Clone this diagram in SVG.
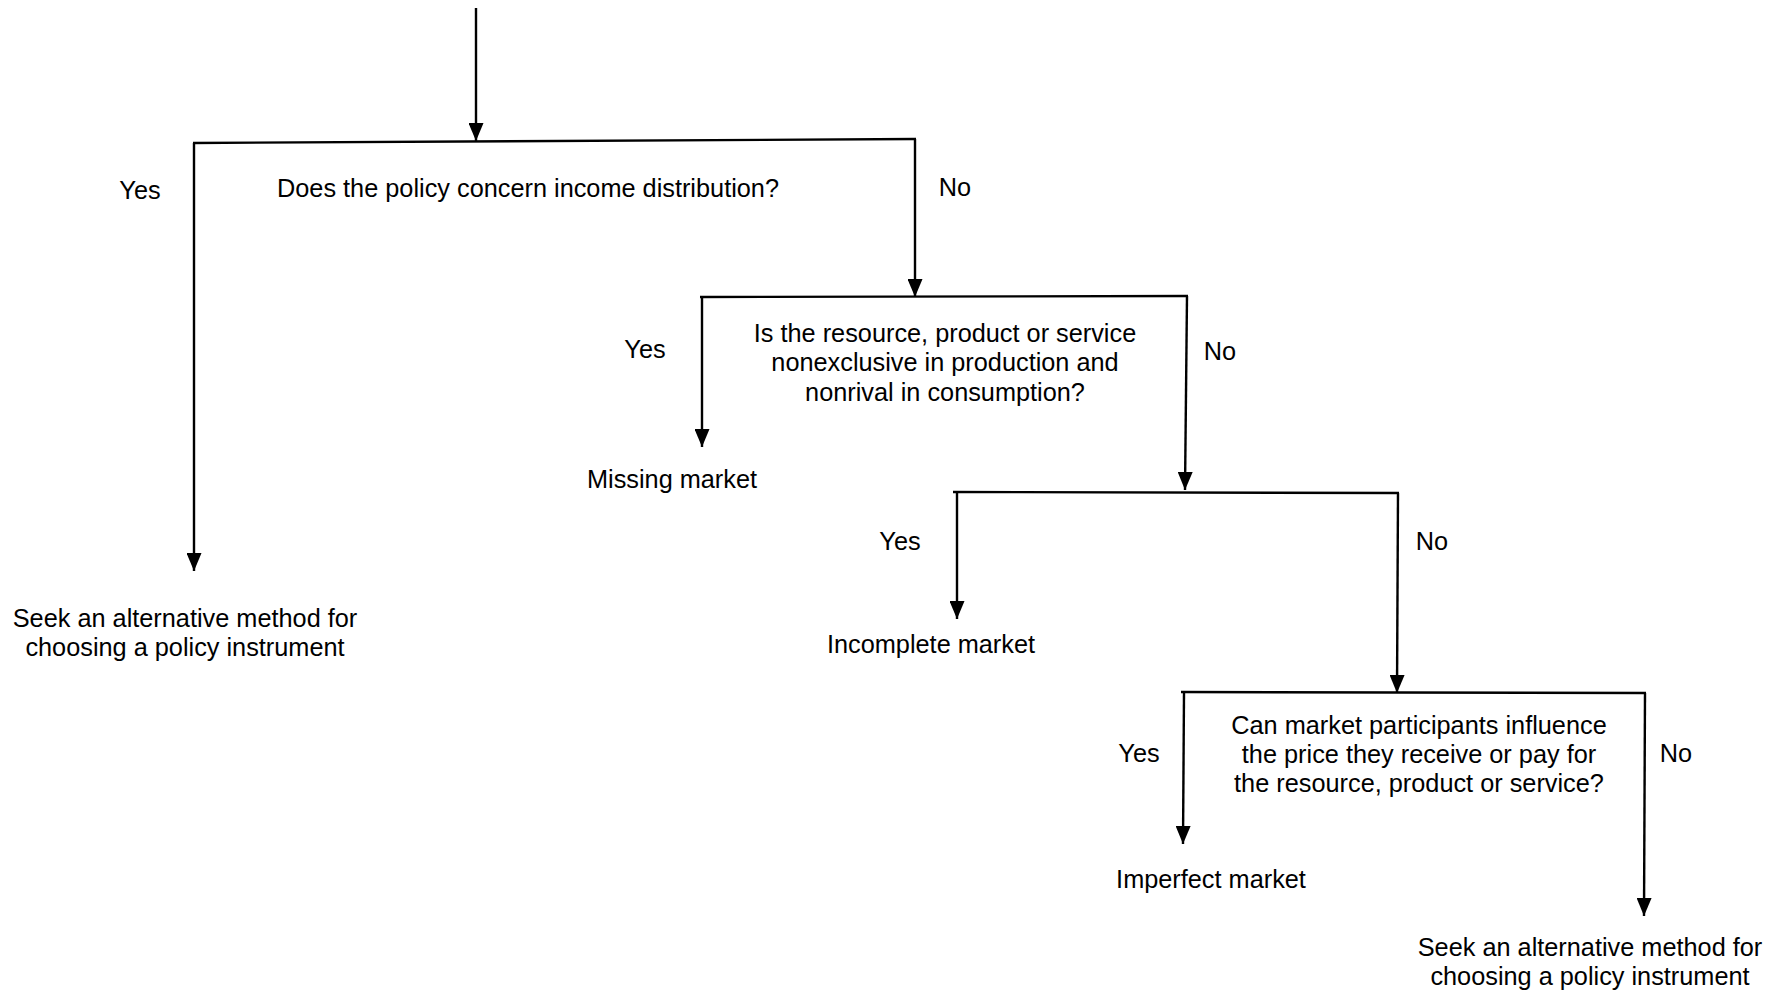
<svg xmlns="http://www.w3.org/2000/svg" width="1791" height="993" viewBox="0 0 1791 993">
<style>
text{font-family:"Liberation Sans",Arial,sans-serif;font-size:25.3px;fill:#000}
.c{text-anchor:middle}
.ln{stroke:#000;stroke-width:2.4;fill:none}
</style>
<defs>
<marker id="ah" markerUnits="userSpaceOnUse" markerWidth="18" markerHeight="15" refX="18" refY="7.5" orient="auto">
<path d="M0,0 L18,7.5 L0,15 z" fill="#000"/>
</marker>
</defs>
<rect width="1791" height="993" fill="#fff"/>
<g id="connectors">
<line class="ln" x1="476" y1="8" x2="476" y2="141" marker-end="url(#ah)"/>
<line class="ln" x1="193" y1="143" x2="916" y2="139"/>
<line class="ln" x1="194" y1="143" x2="194" y2="571" marker-end="url(#ah)"/>
<line class="ln" x1="915" y1="139" x2="915" y2="297" marker-end="url(#ah)"/>
<line class="ln" x1="700" y1="297" x2="1188" y2="296"/>
<line class="ln" x1="702" y1="297" x2="702" y2="447" marker-end="url(#ah)"/>
<line class="ln" x1="1187" y1="296" x2="1185" y2="490" marker-end="url(#ah)"/>
<line class="ln" x1="953" y1="492" x2="1399" y2="493"/>
<line class="ln" x1="957" y1="493" x2="957" y2="619" marker-end="url(#ah)"/>
<line class="ln" x1="1398" y1="493" x2="1397" y2="693" marker-end="url(#ah)"/>
<line class="ln" x1="1181" y1="692" x2="1646" y2="693"/>
<line class="ln" x1="1184" y1="693" x2="1183" y2="844" marker-end="url(#ah)"/>
<line class="ln" x1="1645" y1="693" x2="1644" y2="916" marker-end="url(#ah)"/>
</g>
<g id="labels">
<text class="c" x="140" y="199">Yes</text>
<text class="c" x="955" y="196">No</text>
<text class="c" x="645" y="358">Yes</text>
<text class="c" x="1220" y="360">No</text>
<text class="c" x="900" y="550">Yes</text>
<text class="c" x="1432" y="550">No</text>
<text class="c" x="1139" y="762">Yes</text>
<text class="c" x="1676" y="762">No</text>
</g>
<g id="q1"><text class="c" x="528" y="197">Does the policy concern income distribution?</text></g>
<g id="q2">
<text class="c" x="945" y="342">Is the resource, product or service</text>
<text class="c" x="945" y="371">nonexclusive in production and</text>
<text class="c" x="945" y="401">nonrival in consumption?</text>
</g>
<g id="q3">
<text class="c" x="1419" y="734">Can market participants influence</text>
<text class="c" x="1419" y="763">the price they receive or pay for</text>
<text class="c" x="1419" y="792">the resource, product or service?</text>
</g>
<g id="outcome-left">
<text class="c" x="185" y="627">Seek an alternative method for</text>
<text class="c" x="185" y="656">choosing a policy instrument</text>
</g>
<g id="missing"><text class="c" x="672" y="488">Missing market</text></g>
<g id="incomplete"><text class="c" x="931" y="653">Incomplete market</text></g>
<g id="imperfect"><text class="c" x="1211" y="888">Imperfect market</text></g>
<g id="outcome-right">
<text class="c" x="1590" y="956">Seek an alternative method for</text>
<text class="c" x="1590" y="985">choosing a policy instrument</text>
</g>
</svg>
